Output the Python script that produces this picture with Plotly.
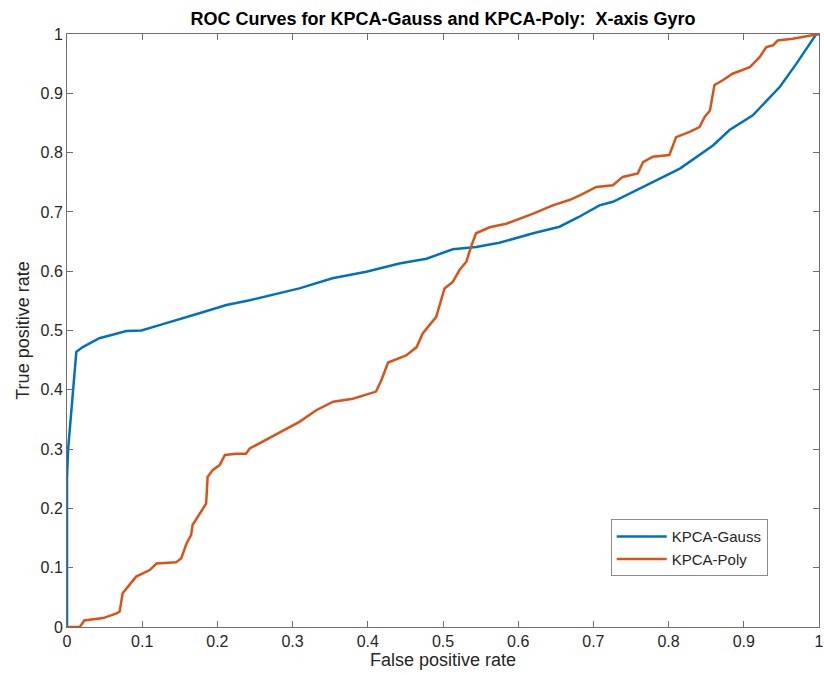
import plotly.graph_objects as go

gauss_fpr = [0, 0, 0.0015, 0.0044, 0.0088, 0.0124, 0.021, 0.043, 0.079, 0.099, 0.123, 0.154, 0.176,
             0.212, 0.243, 0.309, 0.353, 0.398, 0.442, 0.478, 0.513, 0.544, 0.575, 0.62, 0.655,
             0.68, 0.708, 0.726, 0.77, 0.815, 0.859, 0.881, 0.912, 0.948, 0.970, 0.996, 1.0]
gauss_tpr = [0, 0.25, 0.30, 0.343, 0.41, 0.464, 0.472, 0.487, 0.499, 0.50, 0.509, 0.52, 0.529,
             0.543, 0.551, 0.571, 0.588, 0.599, 0.613, 0.621, 0.637, 0.641, 0.648, 0.664, 0.675,
             0.691, 0.711, 0.717, 0.745, 0.773, 0.812, 0.838, 0.863, 0.911, 0.95, 0.999, 1.0]

poly_fpr = [0, 0.017, 0.023, 0.048, 0.066, 0.07, 0.074, 0.092, 0.11, 0.119, 0.145, 0.152, 0.159,
            0.165, 0.167, 0.181, 0.185, 0.187, 0.194, 0.203, 0.21, 0.225, 0.238, 0.243, 0.309,
            0.332, 0.354, 0.38, 0.411, 0.418, 0.427, 0.451, 0.465, 0.473, 0.491, 0.502, 0.513,
            0.522, 0.531, 0.538, 0.544, 0.562, 0.584, 0.62, 0.646, 0.668, 0.682, 0.704, 0.726,
            0.739, 0.759, 0.766, 0.779, 0.801, 0.81, 0.828, 0.841, 0.848, 0.855, 0.861, 0.872,
            0.885, 0.899, 0.908, 0.921, 0.93, 0.939, 0.945, 0.965, 0.988, 0.996, 1.0]
poly_tpr = [0, 0, 0.011, 0.015, 0.023, 0.026, 0.057, 0.085, 0.096, 0.107, 0.109, 0.116, 0.141,
            0.155, 0.172, 0.2, 0.208, 0.253, 0.265, 0.273, 0.29, 0.292, 0.292, 0.301, 0.346,
            0.366, 0.38, 0.385, 0.397, 0.416, 0.446, 0.458, 0.472, 0.495, 0.523, 0.571, 0.582,
            0.602, 0.616, 0.644, 0.664, 0.674, 0.68, 0.697, 0.711, 0.72, 0.728, 0.742, 0.745,
            0.759, 0.765, 0.784, 0.793, 0.796, 0.826, 0.835, 0.843, 0.86, 0.871, 0.914, 0.922,
            0.933, 0.939, 0.944, 0.961, 0.978, 0.981, 0.989, 0.992, 0.997, 1.0, 1.0]

FONT = "Liberation Sans, Arial, Helvetica, sans-serif"
AX = "#262626"

fig = go.Figure()
fig.add_trace(go.Scatter(x=gauss_fpr, y=gauss_tpr, mode="lines", name="KPCA-Gauss",
                         line=dict(color="#0072BD", width=2.5)))
fig.add_trace(go.Scatter(x=poly_fpr, y=poly_tpr, mode="lines", name="KPCA-Poly",
                         line=dict(color="#D95319", width=2.5)))

axis_common = dict(range=[0, 1], dtick=0.1, tick0=0, showgrid=False, zeroline=False,
                   showline=True, linecolor="#6e6e6e", linewidth=1, mirror="ticks",
                   ticks="inside", ticklen=6, tickcolor="#6e6e6e", automargin=False,
                   tickfont=dict(family=FONT, size=16, color=AX))

fig.update_layout(
    width=824, height=675,
    margin=dict(l=67, r=5, t=34, b=48),
    paper_bgcolor="white", plot_bgcolor="white",
    title=dict(text="<b>ROC Curves for KPCA-Gauss and KPCA-Poly:\u00a0 X-axis Gyro</b>",
               x=0.5, xref="paper", xanchor="center",
               y=1 - 19 / 675, yanchor="middle",
               font=dict(family=FONT, size=18, color="black")),
    xaxis=dict(axis_common, title=dict(text="False positive rate", standoff=4,
                                       font=dict(family=FONT, size=18, color=AX))),
    yaxis=dict(axis_common, title=dict(text="True positive rate", standoff=6,
                                       font=dict(family=FONT, size=18, color=AX))),
    legend=dict(x=0.723, y=0.1815, xanchor="left", yanchor="top",
                bordercolor="#8c8c8c", borderwidth=1, bgcolor="white",
                font=dict(family=FONT, size=15, color=AX),
                tracegroupgap=0, itemwidth=50),
    showlegend=True,
)

fig.write_html("out.html")
